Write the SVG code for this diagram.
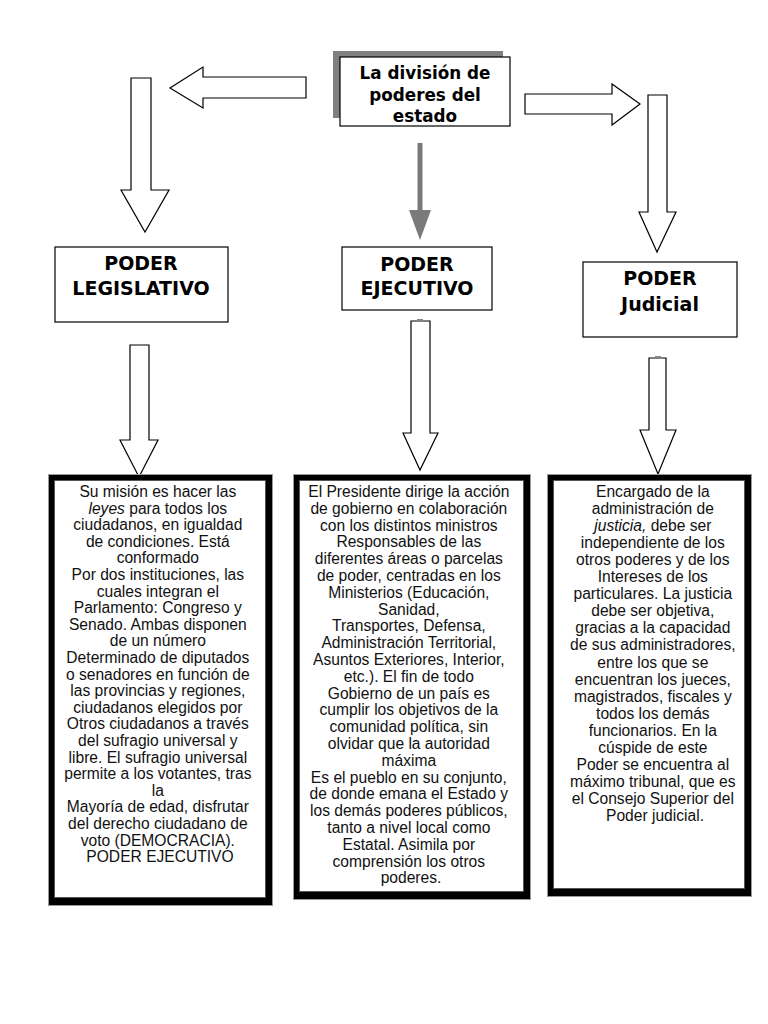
<svg xmlns="http://www.w3.org/2000/svg" width="768" height="1024" viewBox="0 0 768 1024">
<style>
.arr{fill:#fff;stroke:#000;stroke-width:1.2}
.box{fill:#fff;stroke:#000;stroke-width:1.2}
.hd{font-family:"DejaVu Sans",sans-serif;font-weight:bold;font-size:19px;text-anchor:middle;fill:#000}
.tt{font-family:"DejaVu Sans",sans-serif;font-weight:bold;font-size:16.8px;text-anchor:middle;fill:#000}
.bd{font-family:"Liberation Sans",Arial,sans-serif;font-size:15.6px;text-anchor:middle;fill:#111}
.frO{fill:#000;stroke:#999;stroke-width:1}
.frI{fill:#fff;stroke:#555;stroke-width:1}
</style>
<rect width="768" height="1024" fill="#fff"/>
<g id="connectors">
<polygon class="arr" points="306,77 203,77 203,67 170,88 203,108 203,98 306,98"/>
<polygon class="arr" points="525,94 612,94 612,84 640,104 612,125 612,114 525,114"/>
<polygon class="arr" points="131,78 151,78 151,190 169,190 145,232 121,190 131,190"/>
<polygon class="arr" points="648,95 667,95 667,212 676,212 657,252 639,212 648,212"/>
<line x1="420" y1="143" x2="420" y2="212" stroke="#7a7a7a" stroke-width="5"/>
<polygon points="409,210 431,210 420,240" fill="#7a7a7a"/>
<polygon class="arr" points="130,345 149,345 149,440 158,440 139,477 120,440 130,440"/>
<polygon class="arr" points="411,321 430,321 430,433 438,433 420,470 403,433 411,433"/>
<rect x="417" y="319" width="6" height="2" fill="#888"/>
<polygon class="arr" points="649,358 666,358 666,430 676,430 658,474 640,430 649,430"/>
<rect x="655" y="356" width="6" height="2" fill="#888"/>
</g>
<g id="title">
<rect x="333" y="51" width="170" height="67" fill="#808080"/>
<rect class="box" x="340" y="57" width="170" height="69"/>
<text class="tt" x="425" y="79">La división de</text>
<text class="tt" x="425" y="101">poderes del</text>
<text class="tt" x="425" y="122">estado</text>
</g>
<g id="legislativo">
<rect class="box" x="55" y="247" width="173" height="75"/>
<text class="hd" x="141" y="270">PODER</text>
<text class="hd" x="141" y="295">LEGISLATIVO</text>
</g>
<g id="ejecutivo">
<rect class="box" x="342" y="247" width="150" height="63"/>
<text class="hd" x="417" y="271">PODER</text>
<text class="hd" x="417" y="295">EJECUTIVO</text>
</g>
<g id="judicial">
<rect class="box" x="583" y="262" width="154" height="75"/>
<text class="hd" x="660" y="285">PODER</text>
<text class="hd" x="660" y="311">Judicial</text>
</g>
<g id="texto-legislativo">
<rect class="frO" x="48.5" y="474.5" width="224" height="431"/>
<rect class="frI" x="54.5" y="480.5" width="211" height="417"/>
<text class="bd">
<tspan x="160" y="497">Su misión es hacer las</tspan>
<tspan x="160" dy="16.6"><tspan font-style="italic">leyes</tspan> para todos los</tspan>
<tspan x="160" dy="16.6">ciudadanos, en igualdad</tspan>
<tspan x="160" dy="16.6">de condiciones. Está</tspan>
<tspan x="160" dy="16.6">conformado</tspan>
<tspan x="160" dy="16.6">Por dos instituciones, las</tspan>
<tspan x="160" dy="16.6">cuales integran el</tspan>
<tspan x="160" dy="16.6">Parlamento: Congreso y</tspan>
<tspan x="160" dy="16.6">Senado. Ambas disponen</tspan>
<tspan x="160" dy="16.6">de un número</tspan>
<tspan x="160" dy="16.6">Determinado de diputados</tspan>
<tspan x="160" dy="16.6">o senadores en función de</tspan>
<tspan x="160" dy="16.6">las provincias y regiones,</tspan>
<tspan x="160" dy="16.6">ciudadanos elegidos por</tspan>
<tspan x="160" dy="16.6">Otros ciudadanos a través</tspan>
<tspan x="160" dy="16.6">del sufragio universal y</tspan>
<tspan x="160" dy="16.6">libre. El sufragio universal</tspan>
<tspan x="160" dy="16.6">permite a los votantes, tras</tspan>
<tspan x="160" dy="16.6">la</tspan>
<tspan x="160" dy="16.6">Mayoría de edad, disfrutar</tspan>
<tspan x="160" dy="16.6">del derecho ciudadano de</tspan>
<tspan x="160" dy="16.6">voto (DEMOCRACIA).</tspan>
<tspan x="160" dy="16.6">PODER EJECUTIVO</tspan>
</text>
</g>
<g id="texto-ejecutivo">
<rect class="frO" x="293.5" y="474.5" width="237" height="425"/>
<rect class="frI" x="299.5" y="480.5" width="224" height="411"/>
<text class="bd">
<tspan x="411" y="497">El Presidente dirige la acción</tspan>
<tspan x="411" dy="16.8">de gobierno en colaboración</tspan>
<tspan x="411" dy="16.8">con los distintos ministros</tspan>
<tspan x="411" dy="16.8">Responsables de las</tspan>
<tspan x="411" dy="16.8">diferentes áreas o parcelas</tspan>
<tspan x="411" dy="16.8">de poder, centradas en los</tspan>
<tspan x="411" dy="16.8">Ministerios (Educación,</tspan>
<tspan x="411" dy="16.8">Sanidad,</tspan>
<tspan x="411" dy="16.8">Transportes, Defensa,</tspan>
<tspan x="411" dy="16.8">Administración Territorial,</tspan>
<tspan x="411" dy="16.8">Asuntos Exteriores, Interior,</tspan>
<tspan x="411" dy="16.8">etc.). El fin de todo</tspan>
<tspan x="411" dy="16.8">Gobierno de un país es</tspan>
<tspan x="411" dy="16.8">cumplir los objetivos de la</tspan>
<tspan x="411" dy="16.8">comunidad política, sin</tspan>
<tspan x="411" dy="16.8">olvidar que la autoridad</tspan>
<tspan x="411" dy="16.8">máxima</tspan>
<tspan x="411" dy="16.8">Es el pueblo en su conjunto,</tspan>
<tspan x="411" dy="16.8">de donde emana el Estado y</tspan>
<tspan x="411" dy="16.8">los demás poderes públicos,</tspan>
<tspan x="411" dy="16.8">tanto a nivel local como</tspan>
<tspan x="411" dy="16.8">Estatal. Asimila por</tspan>
<tspan x="411" dy="16.8">comprensión los otros</tspan>
<tspan x="411" dy="16.8">poderes.</tspan>
</text>
</g>
<g id="texto-judicial">
<rect class="frO" x="547.5" y="474.5" width="204" height="422"/>
<rect class="frI" x="553.5" y="480.5" width="191" height="408"/>
<text class="bd">
<tspan x="655" y="497">Encargado de la</tspan>
<tspan x="655" dy="17.05">administración de</tspan>
<tspan x="655" dy="17.05"><tspan font-style="italic">justicia,</tspan> debe ser</tspan>
<tspan x="655" dy="17.05">independiente de los</tspan>
<tspan x="655" dy="17.05">otros poderes y de los</tspan>
<tspan x="655" dy="17.05">Intereses de los</tspan>
<tspan x="655" dy="17.05">particulares. La justicia</tspan>
<tspan x="655" dy="17.05">debe ser objetiva,</tspan>
<tspan x="655" dy="17.05">gracias a la capacidad</tspan>
<tspan x="655" dy="17.05">de sus administradores,</tspan>
<tspan x="655" dy="17.05">entre los que se</tspan>
<tspan x="655" dy="17.05">encuentran los jueces,</tspan>
<tspan x="655" dy="17.05">magistrados, fiscales y</tspan>
<tspan x="655" dy="17.05">todos los demás</tspan>
<tspan x="655" dy="17.05">funcionarios. En la</tspan>
<tspan x="655" dy="17.05">cúspide de este</tspan>
<tspan x="655" dy="17.05">Poder se encuentra al</tspan>
<tspan x="655" dy="17.05">máximo tribunal, que es</tspan>
<tspan x="655" dy="17.05">el Consejo Superior del</tspan>
<tspan x="655" dy="17.05">Poder judicial.</tspan>
</text>
</g>
</svg>
